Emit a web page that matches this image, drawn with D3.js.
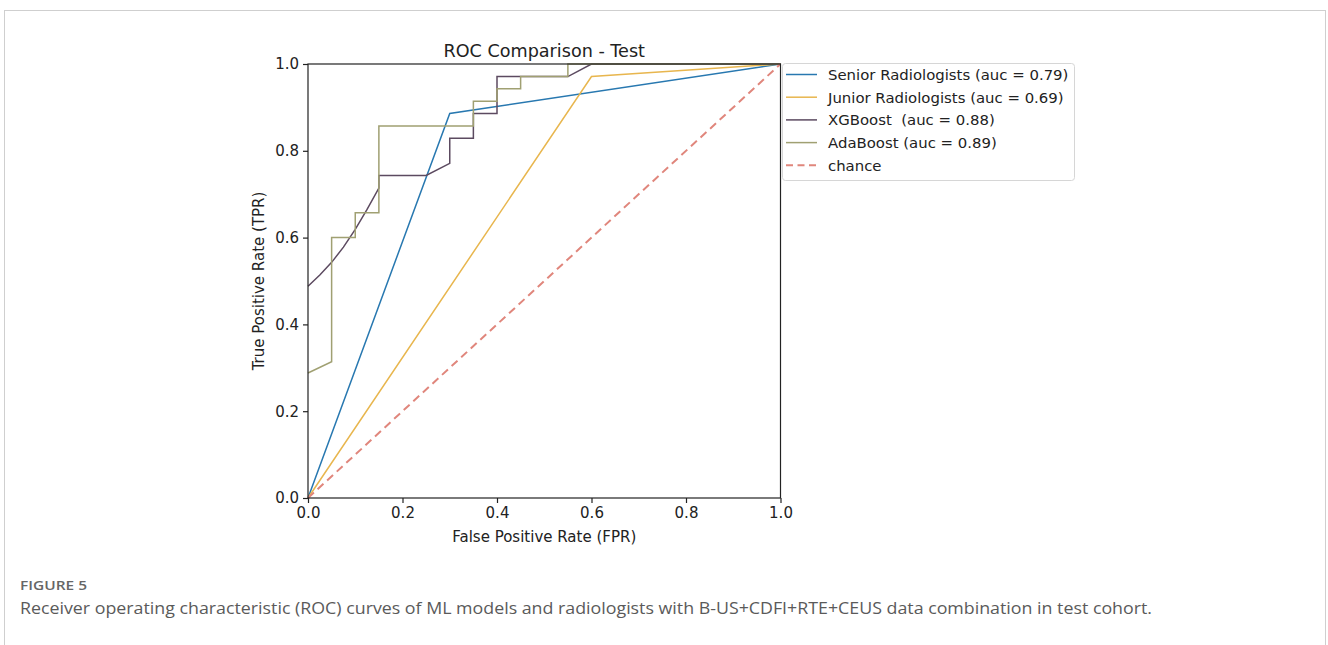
<!DOCTYPE html>
<html>
<head>
<meta charset="utf-8">
<script src="https://cdn.jsdelivr.net/npm/d3@7"></script>
<style>
  html, body { margin: 0; padding: 0; background: #fff; }
  svg { display: block; }
  text { white-space: pre; }
</style>
</head>
<body>
<svg id="chart" width="1328" height="645"></svg>
<script>
// ---------- data ----------
const seriesNames = ["Senior Radiologists (auc = 0.79)", "Junior Radiologists (auc = 0.69)", "XGBoost  (auc = 0.88)", "AdaBoost (auc = 0.89)", "chance"];
const seniorFPR = [0, 0.30, 1.0];
const seniorTPR = [0, 0.886, 1.0];
const juniorFPR = [0, 0.60, 1.0];
const juniorTPR = [0, 0.971, 1.0];
const xgbFPR = [0, 0.025, 0.05, 0.075, 0.10, 0.125, 0.15, 0.15, 0.25, 0.30, 0.30, 0.35, 0.35, 0.40, 0.40, 0.55, 0.60, 1.0];
const xgbTPR = [0.488, 0.514, 0.543, 0.578, 0.619, 0.665, 0.714, 0.743, 0.743, 0.771, 0.829, 0.829, 0.886, 0.886, 0.971, 0.971, 1.0, 1.0];
const adaFPR = [0, 0.05, 0.05, 0.10, 0.10, 0.15, 0.15, 0.35, 0.35, 0.40, 0.40, 0.45, 0.45, 0.55, 0.55, 1.0];
const adaTPR = [0.288, 0.314, 0.600, 0.600, 0.657, 0.657, 0.857, 0.857, 0.914, 0.914, 0.943, 0.943, 0.971, 0.971, 1.0, 1.0];
const chanceFPR = [0, 1];
const chanceTPR = [0, 1];
const xTicks = [0.0, 0.2, 0.4, 0.6, 0.8, 1.0];
const yTicks = [0.0, 0.2, 0.4, 0.6, 0.8, 1.0];
const titleText = "ROC Comparison - Test";
const xLabel = "False Positive Rate (FPR)";
const yLabel = "True Positive Rate (TPR)";
const figLabel = "FIGURE 5";
const captionText = "Receiver operating characteristic (ROC) curves of ML models and radiologists with B-US+CDFI+RTE+CEUS data combination in test cohort.";

// ---------- styles ----------
const colors = ["#2878b0", "#e8b64e", "#5c4a60", "#a0a072", "#e0867c"];
const dashes = [null, null, null, null, "8,5"];
const fontMpl = "'DejaVu Sans', sans-serif";

const svg = d3.select("#chart");

// page frame
svg.append("rect").attr("x", 4.5).attr("y", 10.5).attr("width", 1321).attr("height", 700)
  .attr("fill", "none").attr("stroke", "#cfcfcf").attr("stroke-width", 1);

const L = 308, R = 780.5, T = 64, B = 498;
const x = d3.scaleLinear().domain([0, 1]).range([L, R]);
const y = d3.scaleLinear().domain([0, 1]).range([B, T]);

const series = [
  { f: seniorFPR, t: seniorTPR },
  { f: juniorFPR, t: juniorTPR },
  { f: xgbFPR, t: xgbTPR },
  { f: adaFPR, t: adaTPR },
  { f: chanceFPR, t: chanceTPR }
];

const line = d3.line().x(d => x(d[0])).y(d => y(d[1]));
const plot = svg.append("g");
series.forEach((s, i) => {
  const pts = s.f.map((v, k) => [v, s.t[k]]);
  plot.append("path").datum(pts).attr("d", line)
    .attr("fill", "none").attr("stroke", colors[i])
    .attr("stroke-width", i === 4 ? 2 : 1.5)
    .attr("stroke-dasharray", dashes[i])
    .attr("stroke-linejoin", "miter");
});

// axes frame
svg.append("rect").attr("x", L).attr("y", T).attr("width", R - L).attr("height", B - T)
  .attr("fill", "none").attr("stroke", "#222").attr("stroke-width", 1.2);

const xAxis = d3.axisBottom(x).tickValues(xTicks).tickFormat(d3.format(".1f")).tickSize(5).tickPadding(4);
const yAxis = d3.axisLeft(y).tickValues(yTicks).tickFormat(d3.format(".1f")).tickSize(5).tickPadding(4);
const gx = svg.append("g").attr("transform", `translate(0,${B})`).call(xAxis);
const gy = svg.append("g").attr("transform", `translate(${L},0)`).call(yAxis);
[gx, gy].forEach(g => {
  g.select(".domain").remove();
  g.selectAll("line").attr("stroke", "#222").attr("stroke-width", 1.2);
  g.selectAll("text").attr("font-family", fontMpl).attr("font-size", 15).attr("fill", "#222");
});

// title & labels
svg.append("text").attr("x", (L + R) / 2).attr("y", 57).attr("text-anchor", "middle")
  .attr("font-family", fontMpl).attr("font-size", 17.6).attr("fill", "#222").text(titleText);
svg.append("text").attr("x", (L + R) / 2).attr("y", 542).attr("text-anchor", "middle")
  .attr("font-family", fontMpl).attr("font-size", 15).attr("fill", "#222").text(xLabel);
svg.append("text").attr("transform", `translate(264,${(T + B) / 2}) rotate(-90)`).attr("text-anchor", "middle")
  .attr("font-family", fontMpl).attr("font-size", 15).attr("fill", "#222").text(yLabel);

// legend
const lg = svg.append("g");
lg.append("rect").attr("x", 782.5).attr("y", 63.5).attr("width", 292).attr("height", 117).attr("rx", 3)
  .attr("fill", "#fff").attr("stroke", "#d6d6d6").attr("stroke-width", 1);
seriesNames.forEach((name, i) => {
  const cy = 74.5 + i * 22.7;
  lg.append("line").attr("x1", 786).attr("x2", 817).attr("y1", cy).attr("y2", cy)
    .attr("stroke", colors[i]).attr("stroke-width", i === 4 ? 2 : 1.5).attr("stroke-dasharray", i === 4 ? "7,4.5" : null);
  lg.append("text").attr("x", 828).attr("y", cy + 5.4)
    .attr("font-family", fontMpl).attr("font-size", 14.9).attr("fill", "#222").text(name);
});

// caption
svg.append("text").attr("x", 20).attr("y", 590)
  .attr("font-family", "'Open Sans', sans-serif").attr("font-size", 13).attr("font-weight", 600)
  .attr("fill", "#666").attr("textLength", 67).attr("lengthAdjust", "spacingAndGlyphs").text(figLabel);
svg.append("text").attr("x", 20).attr("y", 614)
  .attr("font-family", "'Open Sans', sans-serif").attr("font-size", 16)
  .attr("fill", "#5a5a5a").attr("textLength", 1132).attr("lengthAdjust", "spacingAndGlyphs").text(captionText);
</script>
</body>
</html>
